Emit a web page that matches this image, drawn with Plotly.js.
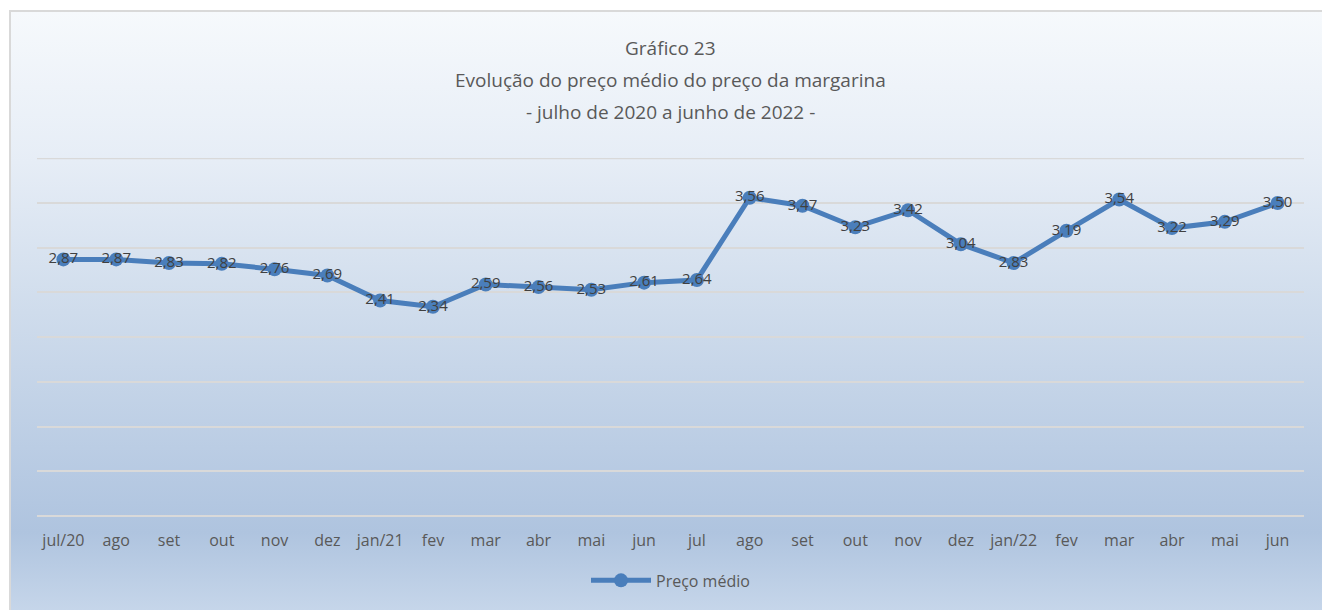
<!DOCTYPE html>
<html>
<head>
<meta charset="utf-8">
<script src="https://cdn.plot.ly/plotly-3.0.1.min.js"></script>
<style>
html,body{margin:0;padding:0;width:1322px;height:610px;overflow:hidden;background:#fff;}
#bg{position:absolute;left:9px;top:10px;width:1320px;height:610px;border:2px solid #d9d9d9;box-sizing:border-box;
background:linear-gradient(to bottom,#f6f9fc 0px,#e6edf6 150px,#cfdcec 300px,#b3c7e1 490px,#afc4df 520px,#c6d6ea 600px);}
#chart{position:absolute;left:0;top:0;width:1322px;height:610px;}
</style>
</head>
<body>
<div id="bg"></div>
<div id="chart"></div>
<script>
const categories = ["jul/20","ago","set","out","nov","dez","jan/21","fev","mar","abr","mai","jun","jul","ago","set","out","nov","dez","jan/22","fev","mar","abr","mai","jun"];
const precoMedio = [2.87,2.87,2.83,2.82,2.76,2.69,2.41,2.34,2.59,2.56,2.53,2.61,2.64,3.56,3.47,3.23,3.42,3.04,2.83,3.19,3.54,3.22,3.29,3.50];
const titleLines = ["Gráfico 23","Evolução do preço médio do preço da margarina","- julho de 2020 a junho de 2022 -"];
const seriesName = "Preço médio";
const gridValues = [0.5,1,1.5,2,2.5,3,3.5,4];

const idx = categories.map((c,i)=>i);
const font = "'Open Sans', 'Noto Sans', sans-serif";

const trace = {
  x: idx, y: precoMedio, type: 'scatter', mode: 'lines+markers+text',
  name: seriesName,
  line: {color: '#4a7ebb', width: 5},
  marker: {color: '#4a7ebb', size: 14},
  text: precoMedio.map(v => v.toFixed(2).replace('.', ',')),
  textposition: 'middle center',
  textfont: {family: font, size: 15, color: '#404040'},
  cliponaxis: false,
  hoverinfo: 'skip'
};

const plotTop = 158, plotBot = 518, h = plotBot - plotTop;
const titleY = [47, 80, 112];
const annotations = titleLines.map((t,i)=>({
  text: t, xref: 'paper', yref: 'paper', x: 0.5, y: 1 + (plotTop - titleY[i]) / h,
  xanchor: 'center', yanchor: 'middle', showarrow: false,
  font: {family: font, size: 19, color: '#595959'}
}));

const layout = {
  width: 1322, height: 610,
  margin: {l: 37, r: 18, t: plotTop, b: 610 - plotBot},
  paper_bgcolor: 'rgba(0,0,0,0)', plot_bgcolor: 'rgba(0,0,0,0)',
  separators: ',.',
  showlegend: true,
  legend: {orientation: 'h', x: 0.5, xanchor: 'center', y: -0.18, yanchor: 'middle',
    itemwidth: 60,
    font: {family: font, size: 16, color: '#595959'}, bgcolor: 'rgba(0,0,0,0)'},
  xaxis: {
    range: [-0.5, 23.5], tickvals: idx, ticktext: categories,
    showgrid: false, zeroline: false, showline: false,
    ticks: 'outside', ticklen: 10, tickcolor: 'rgba(0,0,0,0)',
    tickfont: {family: font, size: 16, color: '#595959'}, fixedrange: true
  },
  yaxis: {
    range: [0, 4.004], tickvals: gridValues, showticklabels: false, showgrid: true,
    gridcolor: '#d9d9d9', gridwidth: 2, zeroline: true, zerolinecolor: '#d9d9d9', zerolinewidth: 2,
    showline: false, ticks: '', fixedrange: true
  },
  shapes: [{type: 'line', xref: 'paper', yref: 'y', x0: 0, x1: 1, y0: gridValues[gridValues.length-1], y1: gridValues[gridValues.length-1],
    line: {color: '#d9d9d9', width: 2}, layer: 'below'}],
  annotations: annotations
};

Plotly.newPlot('chart', [trace], layout, {displayModeBar: false, staticPlot: true});
</script>
</body>
</html>
